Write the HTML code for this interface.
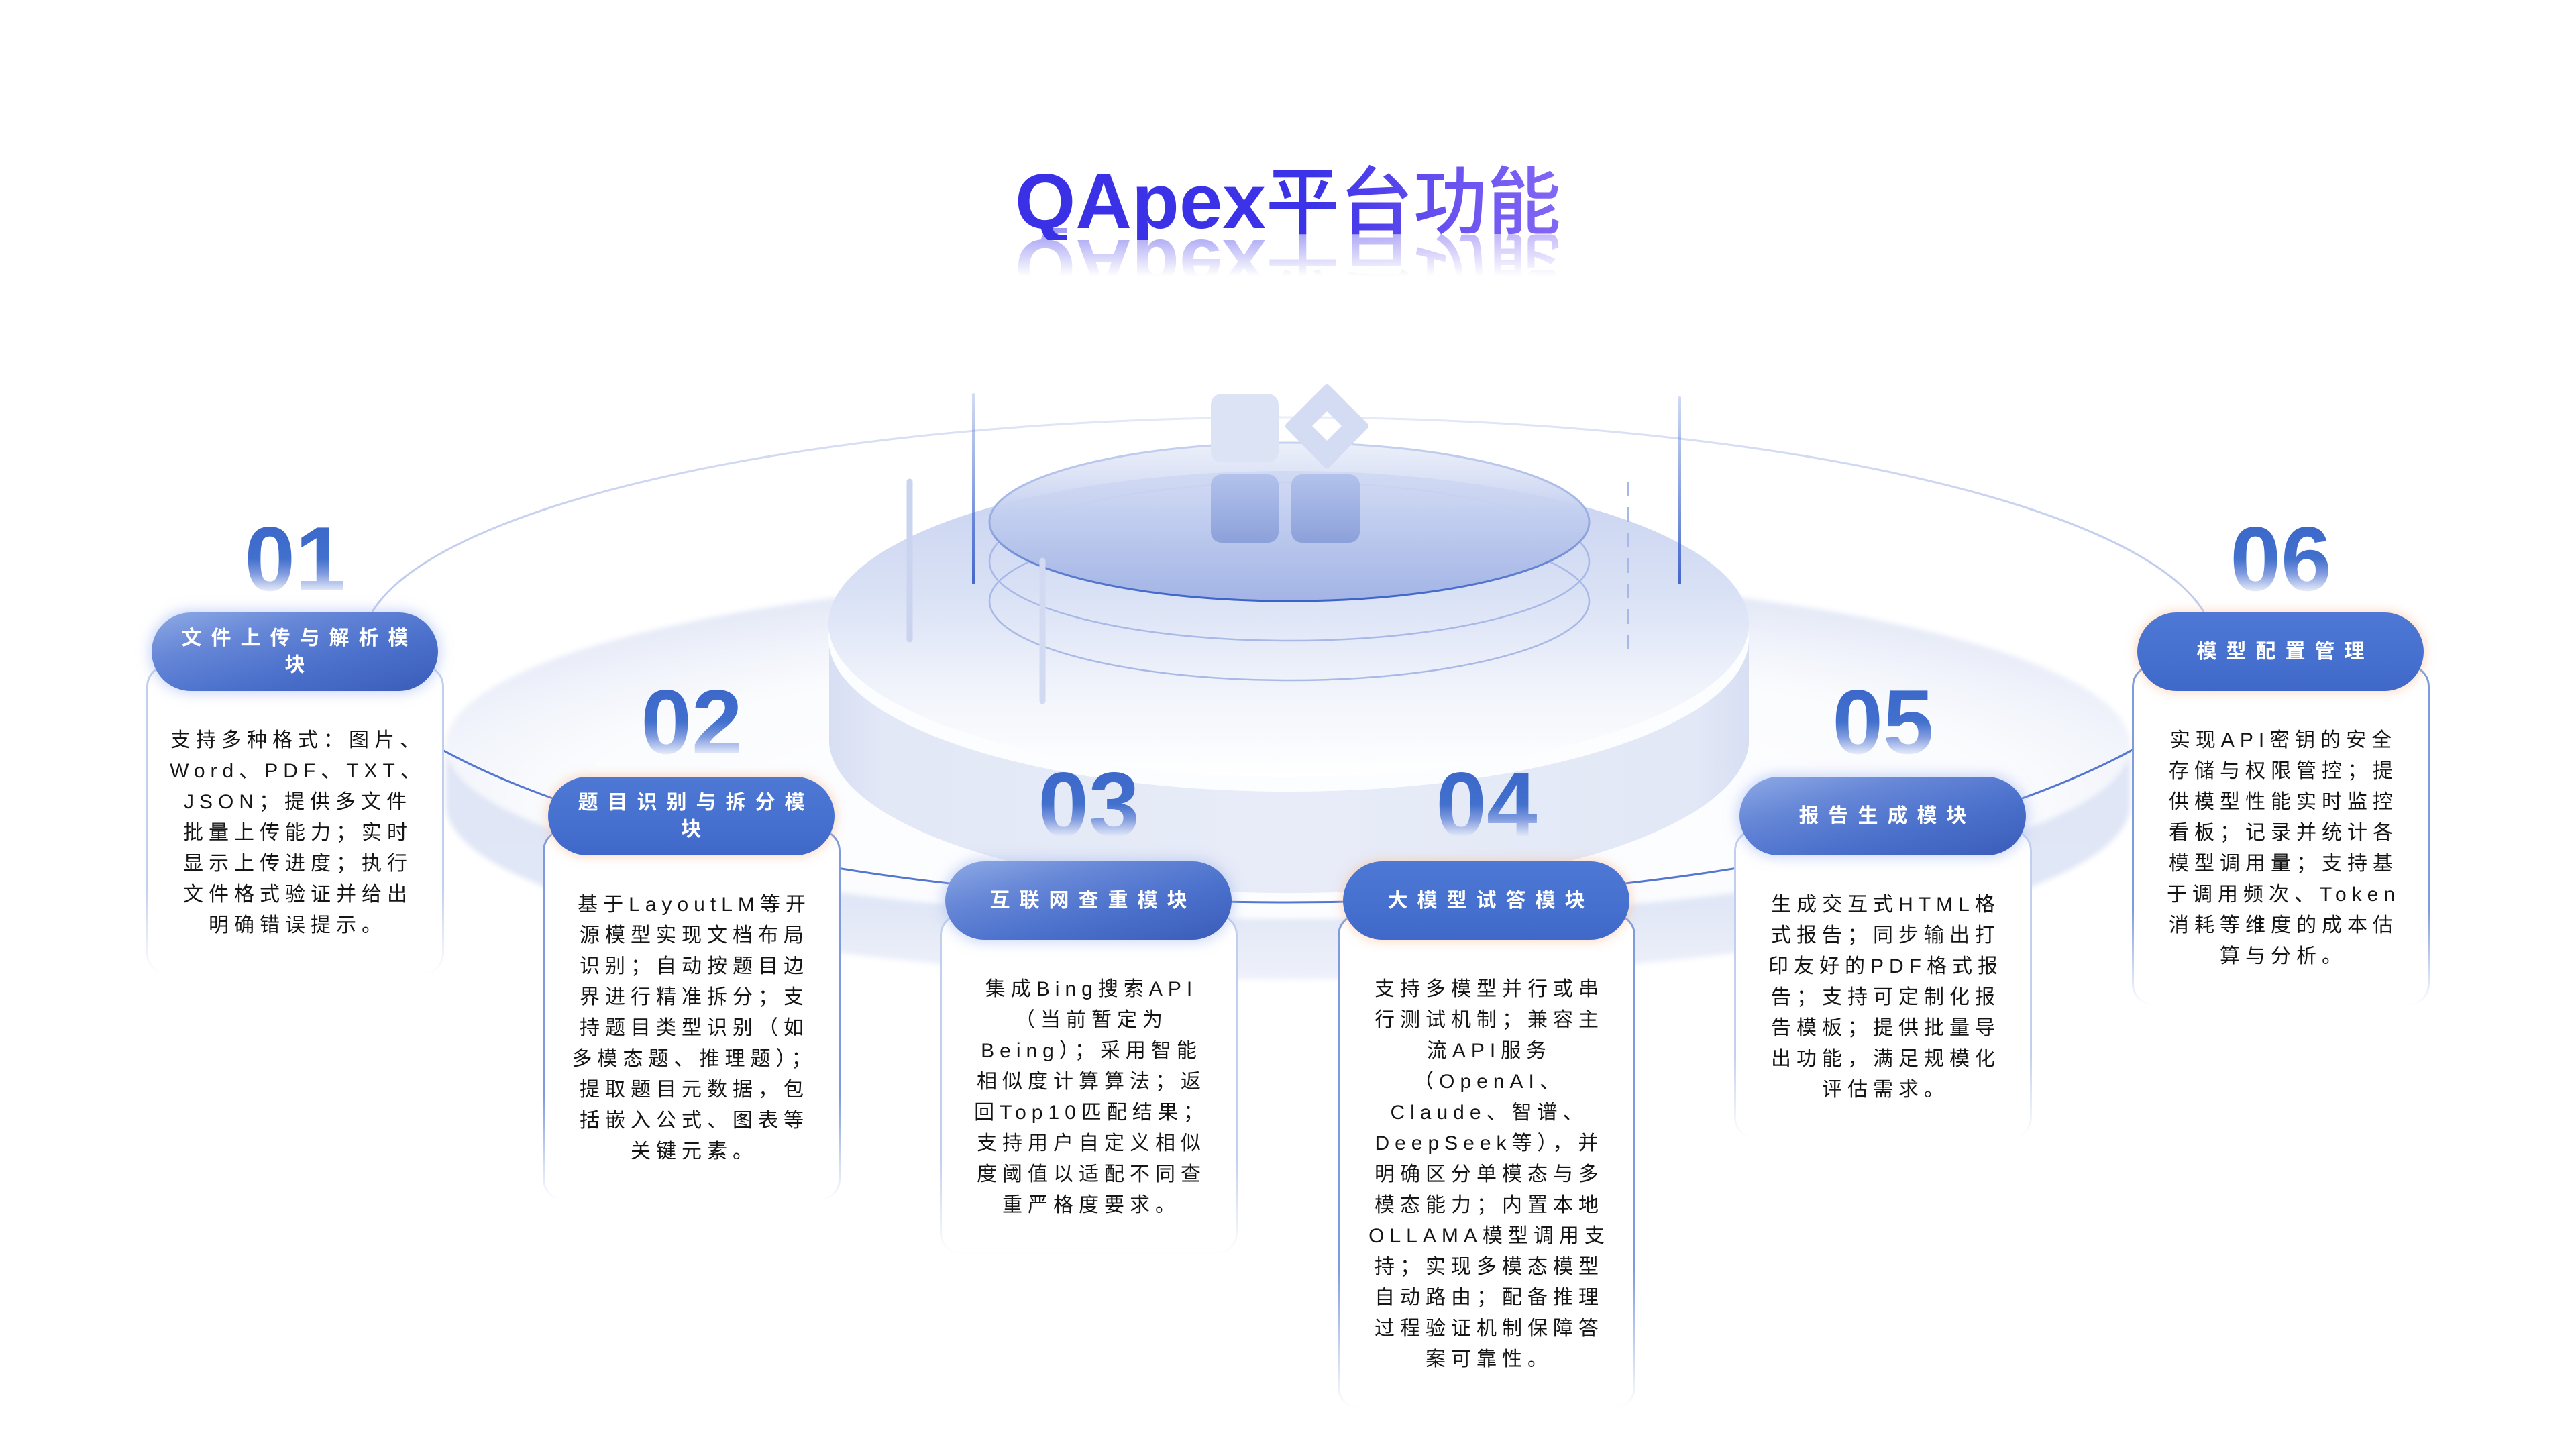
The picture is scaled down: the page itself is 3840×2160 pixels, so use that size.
<!DOCTYPE html>
<html><head><meta charset="utf-8">
<style>
html,body{margin:0;padding:0;background:#fff;}
body{width:3840px;height:2160px;position:relative;overflow:hidden;font-family:"Liberation Sans","Noto Sans CJK SC",sans-serif;}
svg.bg{position:absolute;left:0;top:0;z-index:0;}
.title{position:absolute;left:0;top:242px;width:3840px;text-align:center;white-space:nowrap;z-index:5;}
.title .t{display:inline-block;height:116px;font-size:116px;line-height:116px;font-weight:700;
 background:linear-gradient(90deg,#3a30e6 0%,#3c33e8 55%,#6a52f0 80%,#8367f4 100%);
 -webkit-background-clip:text;background-clip:text;color:transparent;
 -webkit-box-reflect:below -18px linear-gradient(transparent 38%, rgba(0,0,0,0.5));}
.title .cj{font-size:110px;font-weight:500;font-family:"Liberation Sans","Noto Sans CJK SC",sans-serif;}
.num{position:absolute;width:300px;text-align:center;font-size:136px;line-height:136px;height:136px;font-weight:700;font-family:"Liberation Sans",sans-serif;
 background:linear-gradient(180deg,#3a65c9 0%,#4270cd 50%,#7f9ade 66%,#e9eefa 86%);
 -webkit-background-clip:text;background-clip:text;color:transparent;z-index:3;}
.pill{position:absolute;width:427px;height:117px;border-radius:59px;display:flex;align-items:center;justify-content:center;color:#fff;font-weight:700;font-size:30px;line-height:40px;letter-spacing:14px;text-align:center;white-space:nowrap;z-index:4;}
.pill .pt{padding-left:14px;}
.odd .pill{background:linear-gradient(165deg,#8eaae5 0%,#6787d7 30%,#4b71cc 62%,#3a5cb9 100%);box-shadow:0 0 18px 4px rgba(165,185,240,0.55);}
.even .pill{background:linear-gradient(180deg,#4e78d4 0%,#4670cf 60%,#3f68c8 100%);box-shadow:0 0 14px 3px rgba(250,190,150,0.5);}
.body{position:absolute;width:444px;box-sizing:border-box;border:3px solid #c2cfec;border-radius:32px;background:#fff;z-index:2;
 -webkit-mask-image:linear-gradient(180deg,#000 0%,#000 72%,transparent 100%);mask-image:linear-gradient(180deg,#000 0%,#000 72%,transparent 100%);}
.even .body{border-color:#7f9bdd;}
.txt{position:absolute;width:444px;text-align:center;font-size:30px;line-height:46px;letter-spacing:8px;color:#151515;white-space:nowrap;z-index:4;}
.txt .pt{padding-left:8px;}
</style></head>
<body>
<svg class="bg" width="3840" height="2160" viewBox="0 0 3840 2160" xmlns="http://www.w3.org/2000/svg">
<defs>
<radialGradient id="dTop" cx="0.5" cy="0.66" r="0.62">
<stop offset="0" stop-color="#ffffff"/>
<stop offset="0.68" stop-color="#fbfcfe"/>
<stop offset="0.88" stop-color="#eff2fa"/>
<stop offset="1" stop-color="#e5eaf7"/>
</radialGradient>
<linearGradient id="dSide" x1="0" y1="0" x2="0" y2="1">
<stop offset="0" stop-color="#dfe5f5"/>
<stop offset="0.7" stop-color="#e1e7f6"/>
<stop offset="1" stop-color="#eef1fa"/>
</linearGradient>
<filter id="soft" x="-5%" y="-20%" width="110%" height="140%"><feGaussianBlur stdDeviation="4"/></filter>
<linearGradient id="arcG" x1="0" y1="0" x2="1" y2="0">
<stop offset="0" stop-color="#c0cbee"/>
<stop offset="0.5" stop-color="#e9edf9"/>
<stop offset="1" stop-color="#c0cbee"/>
</linearGradient>
<linearGradient id="cylH" x1="0" y1="0" x2="1" y2="0">
<stop offset="0" stop-color="#d8dff3"/>
<stop offset="0.06" stop-color="#e2e8f6"/>
<stop offset="0.5" stop-color="#e8ecf8"/>
<stop offset="0.94" stop-color="#e2e8f6"/>
<stop offset="1" stop-color="#d8dff3"/>
</linearGradient>
<linearGradient id="cylTop" x1="0" y1="0" x2="0" y2="1">
<stop offset="0" stop-color="#c8d2f0"/>
<stop offset="0.4" stop-color="#d9e1f5"/>
<stop offset="0.72" stop-color="#f1f4fb"/>
<stop offset="1" stop-color="#ffffff"/>
</linearGradient>
<linearGradient id="glassF" x1="0" y1="0" x2="0" y2="1">
<stop offset="0" stop-color="#dfe5f6" stop-opacity="0.6"/>
<stop offset="0.45" stop-color="#c3cff0"/>
<stop offset="1" stop-color="#a3b4e5"/>
</linearGradient>
<linearGradient id="glassS" x1="0" y1="0" x2="0" y2="1">
<stop offset="0" stop-color="#c6d1f0"/>
<stop offset="0.55" stop-color="#93a8e0"/>
<stop offset="1" stop-color="#3c62c8"/>
</linearGradient>
<linearGradient id="blk" x1="0" y1="0" x2="0" y2="1">
<stop offset="0" stop-color="#b3c2ec"/>
<stop offset="1" stop-color="#8ca1da"/>
</linearGradient>
<linearGradient id="vlA" gradientUnits="userSpaceOnUse" x1="0" y1="588" x2="0" y2="869">
<stop offset="0" stop-color="#4a6fd0" stop-opacity="0.25"/>
<stop offset="1" stop-color="#4468cc"/>
</linearGradient>
</defs>

<!-- outer disc -->
<ellipse cx="1920" cy="1110" rx="1255" ry="260" fill="url(#dTop)" filter="url(#soft)"/>
<path d="M665 1110 L665 1200 A1255 260 0 0 0 3175 1200 L3175 1110 A1255 260 0 0 1 665 1110 Z" fill="url(#dSide)" filter="url(#soft)"/>

<!-- thin big arc -->
<path d="M540 962 A1380 340 0 0 1 3300 962" fill="none" stroke="url(#arcG)" stroke-width="3"/>

<!-- cylinder body -->
<path d="M1236 950 L1236 1110 A686 230 0 0 0 2607 1110 L2607 950 Z" fill="url(#cylH)"/>
<ellipse cx="1921" cy="952" rx="686" ry="228" fill="#fcfdff"/>
<ellipse cx="1921" cy="930" rx="686" ry="228" fill="url(#cylTop)"/>

<!-- rings -->
<ellipse cx="1922" cy="896" rx="447" ry="118" fill="none" stroke="#a9b9e7" stroke-width="2.5"/>
<ellipse cx="1922" cy="837" rx="447" ry="118" fill="none" stroke="#a9b9e7" stroke-width="2.5"/>
<ellipse cx="1922" cy="778" rx="447" ry="118" fill="url(#glassF)" stroke="url(#glassS)" stroke-width="3"/>

<!-- icon -->
<rect x="1805" y="587" width="101" height="102" rx="16" fill="#dce3f5"/>
<path d="M1978 578 L2035 635 L1978 693 L1921 635 Z M1978 606 L1949 635 L1978 664 L2007 635 Z" fill="#d3dcf3" fill-rule="evenodd" stroke="#d3dcf3" stroke-width="10" stroke-linejoin="round"/>
<rect x="1805" y="707" width="101" height="102" rx="16" fill="url(#blk)"/>
<rect x="1925" y="707" width="102" height="102" rx="16" fill="url(#blk)"/>

<!-- vertical lines -->
<line x1="1451" y1="588" x2="1451" y2="869" stroke="url(#vlA)" stroke-width="4" stroke-linecap="round"/>
<line x1="2504" y1="593" x2="2504" y2="869" stroke="url(#vlA)" stroke-width="4" stroke-linecap="round"/>
<line x1="1356" y1="718" x2="1356" y2="953" stroke="#cad4ef" stroke-width="9" stroke-linecap="round"/>
<line x1="1554" y1="836" x2="1554" y2="1045" stroke="#d2daf1" stroke-width="9" stroke-linecap="round"/>
<line x1="2427" y1="718" x2="2427" y2="984" stroke="#a9b9e7" stroke-width="4" stroke-dasharray="22 16"/>

<!-- ring connector -->
<path d="M509 1000 A1450 450 0 0 0 3329 1000" fill="none" stroke="#5476d0" stroke-width="3"/>
</svg>

<div class="title"><span class="t">QApex<span class="cj">平台功能</span></span></div>

<!-- Card 1 -->
<div class="odd">
<div class="num" style="left:290px;top:765px;">01</div>
<div class="body" style="left:218px;top:991px;height:462px;"></div>
<div class="pill" style="left:226px;top:913px;"><div class="pt">文件上传与解析模<br>块</div></div>
<div class="txt" style="left:218px;top:1081px;"><div class="pt">支持多种格式：图片、<br>Word、PDF、TXT、<br>JSON；提供多文件<br>批量上传能力；实时<br>显示上传进度；执行<br>文件格式验证并给出<br>明确错误提示。</div></div>
</div>

<!-- Card 2 -->
<div class="even">
<div class="num" style="left:881px;top:1008px;">02</div>
<div class="body" style="left:809px;top:1236px;height:554px;"></div>
<div class="pill" style="left:817px;top:1158px;"><div class="pt">题目识别与拆分模<br>块</div></div>
<div class="txt" style="left:809px;top:1326px;"><div class="pt">基于LayoutLM等开<br>源模型实现文档布局<br>识别；自动按题目边<br>界进行精准拆分；支<br>持题目类型识别（如<br>多模态题、推理题）；<br>提取题目元数据，包<br>括嵌入公式、图表等<br>关键元素。</div></div>
</div>

<!-- Card 3 -->
<div class="odd">
<div class="num" style="left:1473px;top:1131px;">03</div>
<div class="body" style="left:1401px;top:1362px;height:508px;"></div>
<div class="pill" style="left:1409px;top:1284px;"><div class="pt">互联网查重模块</div></div>
<div class="txt" style="left:1401px;top:1452px;"><div class="pt">集成Bing搜索API<br>（当前暂定为<br>Being）；采用智能<br>相似度计算算法；返<br>回Top10匹配结果；<br>支持用户自定义相似<br>度阈值以适配不同查<br>重严格度要求。</div></div>
</div>

<!-- Card 4 -->
<div class="even">
<div class="num" style="left:2066px;top:1131px;">04</div>
<div class="body" style="left:1994px;top:1362px;height:738px;"></div>
<div class="pill" style="left:2002px;top:1284px;"><div class="pt">大模型试答模块</div></div>
<div class="txt" style="left:1994px;top:1452px;"><div class="pt">支持多模型并行或串<br>行测试机制；兼容主<br>流API服务<br>（OpenAI、<br>Claude、智谱、<br>DeepSeek等），并<br>明确区分单模态与多<br>模态能力；内置本地<br>OLLAMA模型调用支<br>持；实现多模态模型<br>自动路由；配备推理<br>过程验证机制保障答<br>案可靠性。</div></div>
</div>

<!-- Card 5 -->
<div class="odd">
<div class="num" style="left:2657px;top:1008px;">05</div>
<div class="body" style="left:2585px;top:1236px;height:462px;"></div>
<div class="pill" style="left:2593px;top:1158px;"><div class="pt">报告生成模块</div></div>
<div class="txt" style="left:2585px;top:1326px;"><div class="pt">生成交互式HTML格<br>式报告；同步输出打<br>印友好的PDF格式报<br>告；支持可定制化报<br>告模板；提供批量导<br>出功能，满足规模化<br>评估需求。</div></div>
</div>

<!-- Card 6 -->
<div class="even">
<div class="num" style="left:3250px;top:765px;">06</div>
<div class="body" style="left:3178px;top:991px;height:508px;"></div>
<div class="pill" style="left:3186px;top:913px;"><div class="pt">模型配置管理</div></div>
<div class="txt" style="left:3178px;top:1081px;"><div class="pt">实现API密钥的安全<br>存储与权限管控；提<br>供模型性能实时监控<br>看板；记录并统计各<br>模型调用量；支持基<br>于调用频次、Token<br>消耗等维度的成本估<br>算与分析。</div></div>
</div>

</body></html>
